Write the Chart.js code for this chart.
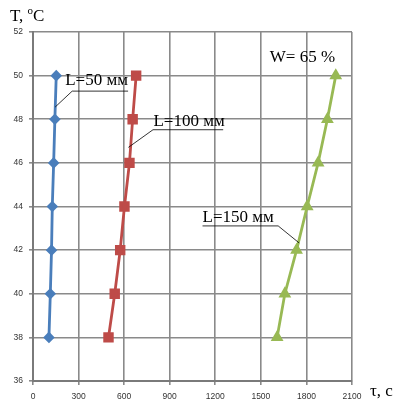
<!DOCTYPE html>
<html>
<head>
<meta charset="utf-8">
<script src="https://cdn.jsdelivr.net/npm/chart.js@4/dist/chart.umd.min.js"></script>
<style>
  html, body { margin: 0; padding: 0; background: #fff; }
  #wrap { width: 395px; height: 405px; position: relative; }
</style>
</head>
<body>
<div id="wrap"><canvas id="c"></canvas></div>
<script>
// Temperature levels, °C
const temps = [38, 40, 42, 44, 46, 48, 50];
// Time to reach each temperature, s, for three sample thicknesses
const timeL50  = [105, 114, 122, 127, 136, 144, 153];
const timeL100 = [497, 538, 574, 602, 635, 656, 679];
const timeL150 = [1607, 1658, 1735, 1805, 1877, 1938, 1993];
const seriesNames = ['L=50 мм', 'L=100 мм', 'L=150 мм'];
const xTicks = [0, 300, 600, 900, 1200, 1500, 1800, 2100];
const yTicks = [36, 38, 40, 42, 44, 46, 48, 50, 52];

const pts = (xs) => xs.map((x, i) => ({ x: x, y: temps[i] }));

// Callout labels in data units: text anchor, underline span, leader end on curve
const callouts = [
  { text: seriesNames[0], tx: 212, ty: 49.58, ux0: 258, ux1: 626, uy: 49.29, px: 146, py: 48.56 },
  { text: seriesNames[1], tx: 793, ty: 47.69, ux0: 790, ux1: 1252, uy: 47.52, px: 628, py: 46.71 },
  { text: seriesNames[2], tx: 1116, ty: 43.27, ux0: 1116, ux1: 1614, uy: 43.11, px: 1752, py: 42.33 }
];

const serif = '"Liberation Serif", "Times New Roman", serif';

const annotate = {
  id: 'annotate',
  afterDatasetsDraw(chart) {
    const { ctx, scales: { x, y } } = chart;
    ctx.save();
    ctx.fillStyle = '#000';
    ctx.font = '17px ' + serif;
    ctx.textBaseline = 'alphabetic';
    ctx.textAlign = 'left';
    callouts.forEach(c => {
      ctx.fillText(c.text, x.getPixelForValue(c.tx), y.getPixelForValue(c.ty));
      ctx.beginPath();
      ctx.strokeStyle = '#000';
      ctx.lineWidth = 0.8;
      const uy = y.getPixelForValue(c.uy);
      const ux0 = x.getPixelForValue(c.ux0), ux1 = x.getPixelForValue(c.ux1);
      const px = x.getPixelForValue(c.px), py = y.getPixelForValue(c.py);
      if (px < ux0) {
        ctx.moveTo(ux1, uy); ctx.lineTo(ux0, uy); ctx.lineTo(px, py);
      } else {
        ctx.moveTo(ux0, uy); ctx.lineTo(ux1, uy); ctx.lineTo(px, py);
      }
      ctx.stroke();
    });
    // Humidity note
    ctx.fillText('W= 65 %', x.getPixelForValue(1559), y.getPixelForValue(50.61));

    // Axis titles
    ctx.font = '17px ' + serif;
    ctx.fillText('T, ', 10, 21);
    const w = ctx.measureText('T, ').width;
    ctx.font = '11px ' + serif;
    ctx.fillText('o', 10 + w, 14);
    const wo = ctx.measureText('o').width;
    ctx.font = '17px ' + serif;
    ctx.fillText('C', 10 + w + wo, 21);
    ctx.fillText('τ, с', 370, 396);
    ctx.restore();
  }
};

const tickFont = { family: '"Liberation Sans", Arial, sans-serif', size: 8.5 };

new Chart(document.getElementById('c'), {
  type: 'scatter',
  data: {
    datasets: [
      { label: seriesNames[0], data: pts(timeL50), showLine: true,
        borderColor: '#4a7ebb', backgroundColor: '#4a7ebb', borderWidth: 2.8,
        pointStyle: 'rectRot', pointRadius: 3.8, pointHoverRadius: 3.8 },
      { label: seriesNames[1], data: pts(timeL100), showLine: true,
        borderColor: '#be4b48', backgroundColor: '#be4b48', borderWidth: 2.8,
        pointStyle: 'rect', pointRadius: 5.4, pointHoverRadius: 5.4 },
      { label: seriesNames[2], data: pts(timeL150), showLine: true,
        borderColor: '#98b954', backgroundColor: '#98b954', borderWidth: 2.8,
        pointStyle: 'triangle', pointRadius: 4.6, pointHoverRadius: 4.6 }
    ]
  },
  options: {
    responsive: true,
    maintainAspectRatio: false,
    animation: false,
    events: [],
    layout: { padding: { top: 32, right: 43, left: 0, bottom: 0 } },
    plugins: { legend: { display: false }, tooltip: { enabled: false } },
    scales: {
      x: {
        type: 'linear', min: 0, max: 2100,
        afterFit: (s) => { s.height = 24; },
        afterBuildTicks: (s) => { s.ticks = xTicks.map(v => ({ value: v })); },
        grid: { color: '#8a8a8a', lineWidth: 1.6, tickLength: 4, drawTicks: true },
        border: { color: '#7a7a7a', width: 2 },
        ticks: { padding: 7, color: '#333', font: tickFont, maxRotation: 0,
                 callback: (v) => String(v) }
      },
      y: {
        type: 'linear', min: 36, max: 52,
        afterFit: (s) => { s.width = 33; },
        afterBuildTicks: (s) => { s.ticks = yTicks.map(v => ({ value: v })); },
        grid: { color: '#8a8a8a', lineWidth: 1.6, tickLength: 4, drawTicks: true },
        border: { color: '#7a7a7a', width: 2 },
        ticks: { padding: 6, color: '#333', font: tickFont,
                 callback: (v) => String(v) }
      }
    }
  },
  plugins: [annotate]
});
</script>
</body>
</html>
